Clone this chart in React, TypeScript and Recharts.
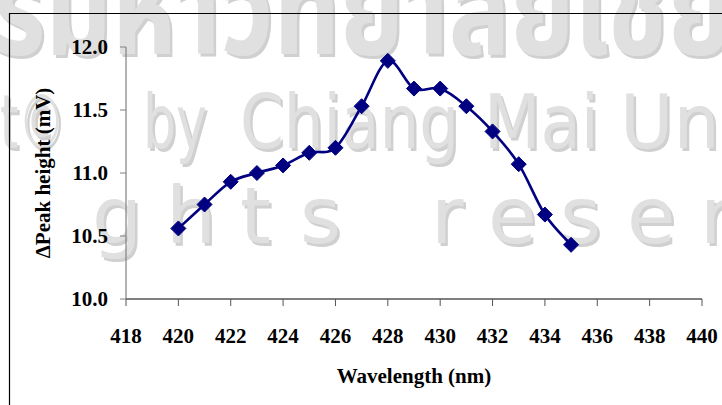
import React from "react";
import { LineChart, Line, XAxis, YAxis, Label } from "recharts";

// Wavelength scan (nm) and the peak-height change measured at each step (mV)
const wavelengths = [420, 421, 422, 423, 424, 425, 426, 427, 428, 429, 430, 431, 432, 433, 434, 435];
const peakHeights = [10.56, 10.75, 10.93, 11.0, 11.06, 11.16, 11.2, 11.53, 11.89, 11.67, 11.67, 11.53, 11.33, 11.07, 10.67, 10.43];

const xTicks = [418, 420, 422, 424, 426, 428, 430, 432, 434, 436, 438, 440];
const yTicks = [10.0, 10.5, 11.0, 11.5, 12.0];

const data = wavelengths.map((w, i) => ({ wavelength: w, peak: peakHeights[i] }));

const NAVY = "#000080";
const SERIF = "Liberation Serif, Times New Roman, serif";
const SANS = "DejaVu Sans, Noto Sans, sans-serif";

// Catmull-Rom style smoothing, like a spreadsheet's smoothed line
const smoothCurve = (context: any) => {
  let xs: number[] = [];
  let ys: number[] = [];
  return {
    areaStart() {},
    areaEnd() {},
    lineStart() {
      xs = [];
      ys = [];
    },
    point(x: number, y: number) {
      xs.push(+x);
      ys.push(+y);
    },
    lineEnd() {
      const n = xs.length;
      if (!n) return;
      context.moveTo(xs[0], ys[0]);
      for (let i = 0; i < n - 1; i++) {
        const p = Math.max(i - 1, 0);
        const q = Math.min(i + 2, n - 1);
        const c1x = xs[i] + (xs[i + 1] - xs[p]) / 6;
        const c1y = ys[i] + (ys[i + 1] - ys[p]) / 6;
        const c2x = xs[i + 1] - (xs[q] - xs[i]) / 6;
        const c2y = ys[i + 1] - (ys[q] - ys[i]) / 6;
        context.bezierCurveTo(c1x, c1y, c2x, c2y, xs[i + 1], ys[i + 1]);
      }
    },
  };
};

const Diamond = (props: any) => {
  const { cx, cy, index } = props;
  if (cx == null || cy == null) return <g key={`d-${index}`} />;
  const r = 7.5;
  return (
    <polygon
      key={`d-${index}`}
      points={`${cx},${cy - r} ${cx + r},${cy} ${cx},${cy + r} ${cx - r},${cy}`}
      fill={NAVY}
      stroke={NAVY}
      strokeWidth={1}
    />
  );
};

const XTick = (props: any) => {
  const { x, y, payload } = props;
  return (
    <text x={x} y={y + 15} textAnchor="middle" fontFamily={SERIF} fontWeight={700} fontSize={21} fill="#000">
      {payload.value}
    </text>
  );
};

const YTick = (props: any) => {
  const { x, y, payload } = props;
  return (
    <text x={x} y={y + 7} textAnchor="end" fontFamily={SERIF} fontWeight={700} fontSize={21} fill="#000">
      {Number(payload.value).toFixed(1)}
    </text>
  );
};

const WM_FILL = "#e0e0e0";
const WM_SHADOW = "#d0d0d0";

const Watermark = () => {
  const line = (content: React.ReactNode, key: string) => (
    <g key={key}>
      <g transform="translate(2.5,2.5)" fill={WM_SHADOW}>{content}</g>
      <g fill={WM_FILL}>{content}</g>
    </g>
  );
  const thai = (
    <text x={-8} y={54} fontFamily="Noto Sans Thai, Loma, Garuda, DejaVu Sans, sans-serif" fontWeight={700} fontSize={130} textLength={740} lengthAdjust="spacingAndGlyphs">
      ริมหาวิทยาลัยเชีย
    </text>
  );
  const words: [string, number, number][] = [
    ["t©", 0, 65],
    ["by", 143, 64],
    ["Chiang", 240, 219],
    ["Mai", 484, 115],
    ["Uni", 620, 120],
  ];
  const copyright = (
    <g fontFamily={SANS} fontSize={74}>
      {words.map(([w, x, len]) => (
        <text key={w} x={x} y={148} textLength={len} lengthAdjust="spacingAndGlyphs">
          {w}
        </text>
      ))}
    </g>
  );
  const letters: [string, number][] = [
    ["g", 92], ["h", 166], ["t", 240], ["s", 300],
    ["r", 431], ["e", 488], ["s", 560], ["e", 627], ["r", 700],
  ];
  const reserved = (
    <g fontFamily={SANS} fontSize={79}>
      {letters.map(([c, x], i) => (
        <text key={i} x={x} y={243}>
          {c}
        </text>
      ))}
    </g>
  );
  return (
    <svg width={722} height={405} style={{ position: "absolute", left: 0, top: 0 }}>
      <rect x={0} y={0} width={722} height={405} fill="#fff" />
      {line(thai, "l1")}
      {line(copyright, "l2")}
      {line(reserved, "l3")}
    </svg>
  );
};

export default function App() {
  return (
    <div style={{ position: "absolute", left: 0, top: 0, width: 722, height: 405, overflow: "hidden", background: "#fff" }}>
      <Watermark />
      <svg width={722} height={405} style={{ position: "absolute", left: 0, top: 0 }}>
        <path d="M9.5,405 L9.5,13.5 L722,13.5" fill="none" stroke="#000" strokeWidth={1.2} />
      </svg>
      <div style={{ position: "absolute", left: 0, top: 0 }}>
        <LineChart width={722} height={405} data={data} margin={{ top: 47, right: 20, bottom: 66, left: 66 }}>
          <XAxis
            dataKey="wavelength"
            type="number"
            domain={[418, 440]}
            ticks={xTicks}
            interval={0}
            tick={<XTick />}
            tickSize={7}
            tickMargin={22}
            height={40}
            axisLine={{ stroke: "#000", strokeWidth: 1.2 }}
            tickLine={{ stroke: "#555", strokeWidth: 1 }}
          >
            <Label
              content={(props: any) => {
                const vb = props.viewBox || {};
                return (
                  <text
                    x={vb.x + vb.width / 2}
                    y={vb.y + 84}
                    textAnchor="middle"
                    fontFamily={SERIF}
                    fontWeight={700}
                    fontSize={21}
                    fill="#000"
                  >
                    Wavelength (nm)
                  </text>
                );
              }}
            />
          </XAxis>
          <YAxis
            type="number"
            domain={[10, 12]}
            ticks={yTicks}
            interval={0}
            tick={<YTick />}
            tickSize={6}
            tickMargin={12}
            width={60}
            axisLine={{ stroke: "#808080", strokeWidth: 1.2 }}
            tickLine={{ stroke: "#808080", strokeWidth: 1 }}
          >
            <Label
              content={(props: any) => {
                const vb = props.viewBox || {};
                const cx = 50;
                const cy = vb.y + vb.height / 2;
                return (
                  <text
                    x={cx}
                    y={cy}
                    transform={`rotate(-90, ${cx}, ${cy})`}
                    textAnchor="middle"
                    fontFamily={SERIF}
                    fontWeight={700}
                    fontSize={21}
                    fill="#000"
                  >
                    ΔPeak height (mV)
                  </text>
                );
              }}
            />
          </YAxis>
          <Line
            dataKey="peak"
            type={smoothCurve as any}
            stroke={NAVY}
            strokeWidth={2.6}
            dot={Diamond}
            activeDot={false}
            isAnimationActive={false}
          />
        </LineChart>
      </div>
    </div>
  );
}
